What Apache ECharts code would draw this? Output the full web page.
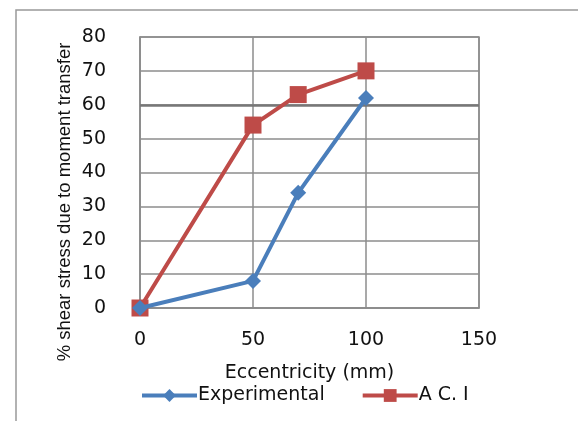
<!DOCTYPE html>
<html>
<head>
<meta charset="utf-8">
<script src="https://cdn.jsdelivr.net/npm/echarts@6/dist/echarts.min.js"></script>
<style>
  html, body { margin: 0; padding: 0; background: #fff; }
  #chart { width: 578px; height: 421px; }
</style>
</head>
<body>
<div id="chart"></div>
<script>
// Eccentricity (mm) on x, % shear stress due to moment transfer on y
const eccentricity = [0, 50, 70, 100];
const experimental = [0, 8, 34, 62];
const aci = [0, 54, 63, 70];
const xTicks = [0, 50, 100, 150];
const yTicks = [0, 10, 20, 30, 40, 50, 60, 70, 80];

const BLUE = '#4A7EBB';
const RED = '#BE4B48';
const GRID = '#8c8c8c';
const FONT = 'DejaVu Sans';

const chart = echarts.init(document.getElementById('chart'), null, { renderer: 'canvas' });

chart.setOption({
  animation: false,
  backgroundColor: '#fff',
  grid: {
    left: 140, right: 99, top: 37, bottom: 113,
    show: true, borderColor: GRID, borderWidth: 1.5
  },
  xAxis: {
    type: 'value',
    min: xTicks[0], max: xTicks[xTicks.length - 1], interval: 50,
    name: 'Eccentricity (mm)',
    nameLocation: 'middle',
    nameGap: 56,
    nameTextStyle: { fontFamily: FONT, fontSize: 19, color: '#111' },
    axisLine: { show: true, lineStyle: { color: GRID, width: 1.5 } },
    axisTick: { show: false },
    axisLabel: { margin: 23, fontFamily: FONT, fontSize: 19, color: '#111' },
    splitLine: { show: true, lineStyle: { color: GRID, width: 1.5 } }
  },
  yAxis: {
    type: 'value',
    min: yTicks[0], max: yTicks[yTicks.length - 1], interval: 10,
    axisLine: { show: true, lineStyle: { color: GRID, width: 1.5 } },
    axisTick: { show: false },
    axisLabel: { margin: 34, fontFamily: FONT, fontSize: 19, color: '#111' },
    splitLine: { show: true, lineStyle: { color: GRID, width: 1.5 } }
  },
  legend: {
    left: 135, top: 381,
    itemWidth: 55, itemHeight: 16, itemGap: 36,
    lineStyle: { width: 4 },
    textStyle: { fontFamily: FONT, fontSize: 19, color: '#111', padding: [0, 0, 0, -4] },
    data: ['Experimental', 'A C. I']
  },
  graphic: [
    {
      type: 'rect', silent: true, z: -1,
      shape: { x: 16, y: 10, width: 700, height: 600 },
      style: { fill: 'none', stroke: '#999', lineWidth: 1.5 }
    },
    {
      type: 'text', silent: true,
      x: 65, y: 202, rotation: Math.PI / 2,
      style: {
        text: '% shear stress due to moment transfer',
        fontFamily: 'Liberation Sans', fontSize: 18.5, fill: '#111',
        align: 'center', verticalAlign: 'middle'
      }
    }
  ],
  series: [
    {
      name: 'Experimental', type: 'line',
      data: eccentricity.map((x, i) => [x, experimental[i]]),
      lineStyle: { color: BLUE, width: 4 },
      itemStyle: { color: BLUE },
      symbol: 'diamond', symbolSize: 16, showSymbol: true,
      z: 3
    },
    {
      name: 'A C. I', type: 'line',
      data: eccentricity.map((x, i) => [x, aci[i]]),
      lineStyle: { color: RED, width: 4 },
      itemStyle: { color: RED },
      symbol: 'rect', symbolSize: 17, showSymbol: true,
      z: 2,
      markLine: {
        silent: true, symbol: 'none', label: { show: false },
        lineStyle: { color: '#777', width: 2.5, type: 'solid' },
        data: [{ yAxis: 60 }],
        z: 1
      }
    }
  ]
});
</script>
</body>
</html>
